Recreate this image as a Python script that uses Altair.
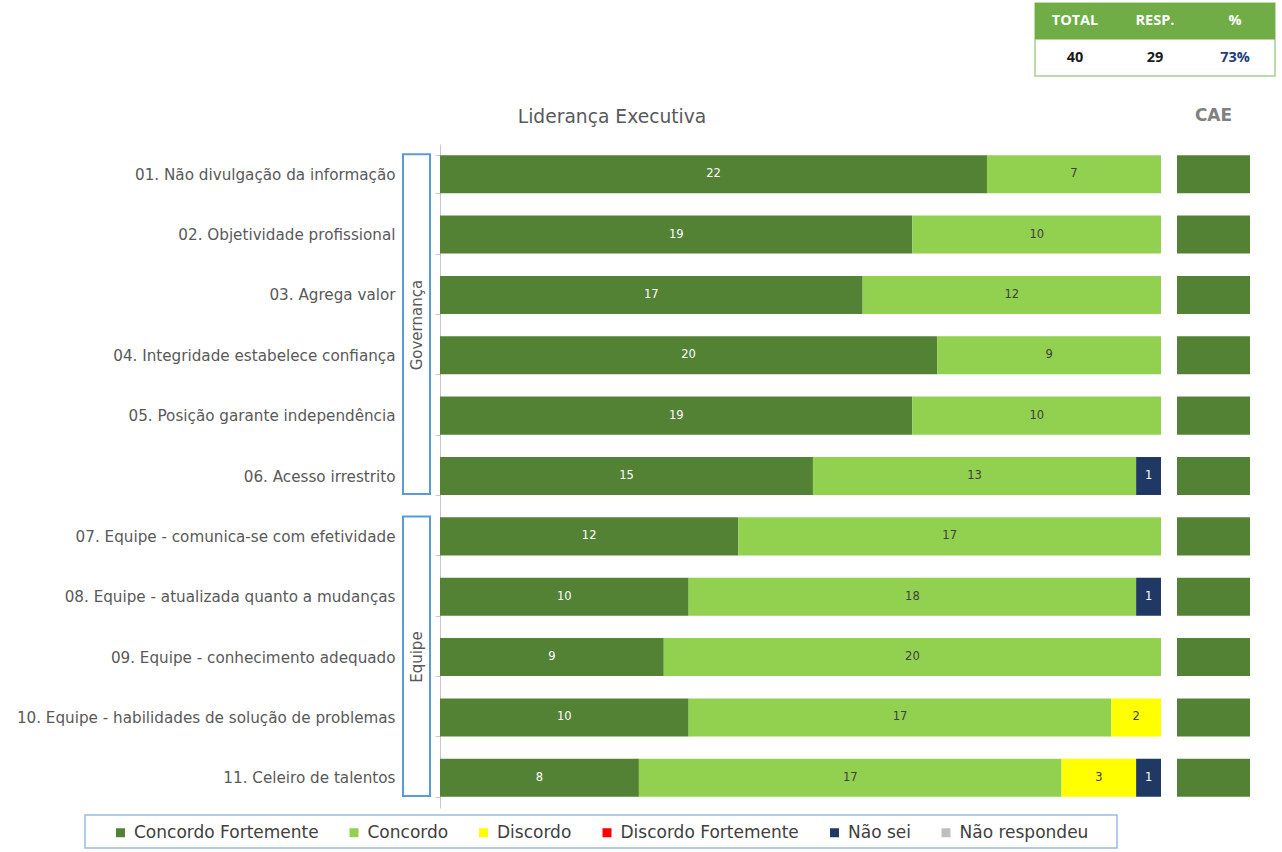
import altair as alt
import pandas as pd

questions = [
    "01. Não divulgação da informação",
    "02. Objetividade profissional",
    "03. Agrega valor",
    "04. Integridade estabelece confiança",
    "05. Posição garante independência",
    "06. Acesso irrestrito",
    "07. Equipe - comunica-se com efetividade",
    "08. Equipe - atualizada quanto a mudanças",
    "09. Equipe - conhecimento adequado",
    "10. Equipe - habilidades de solução de problemas",
    "11. Celeiro de talentos",
]
groups = ["Governança"] * 6 + ["Equipe"] * 5
categories = ["Concordo Fortemente", "Concordo", "Discordo",
              "Discordo Fortemente", "Não sei", "Não respondeu"]
colors = ["#548235", "#92D050", "#FFFF00", "#FF0000", "#203864", "#BFBFBF"]

concordo_fortemente = [22, 19, 17, 20, 19, 15, 12, 10, 9, 10, 8]
concordo = [7, 10, 12, 9, 10, 13, 17, 18, 20, 17, 17]
discordo = [0, 0, 0, 0, 0, 0, 0, 0, 0, 2, 3]
discordo_fortemente = [0, 0, 0, 0, 0, 0, 0, 0, 0, 0, 0]
nao_sei = [0, 0, 0, 0, 0, 1, 0, 1, 0, 0, 1]
nao_respondeu = [0, 0, 0, 0, 0, 0, 0, 0, 0, 0, 0]
cae = [1, 1, 1, 1, 1, 1, 1, 1, 1, 1, 1]

table_cols = ["TOTAL", "RESP.", "%"]
table_vals = ["40", "29", "73%"]
chart_title = "Liderança Executiva"
cae_title_text = "CAE"

FONT = "DejaVu Sans"
W, H = 721, 664

series = [concordo_fortemente, concordo, discordo, discordo_fortemente, nao_sei, nao_respondeu]
rows = []
for i, q in enumerate(questions):
    for k, (cat, vals) in enumerate(zip(categories, series)):
        rows.append(dict(q=q, idx=i, group=groups[i], cat=cat, order=k, value=vals[i]))
df = pd.DataFrame(rows)
df_q = pd.DataFrame(dict(q=questions, idx=list(range(len(questions))), group=groups, cae=cae))

yband = alt.Scale(domain=questions, paddingInner=0.37, paddingOuter=0.185)
xmain = alt.Scale(domain=[0, 29], nice=False, zero=True)

base = alt.Chart(df).transform_filter("datum.value > 0").transform_stack(
    stack="value", groupby=["q"], as_=["x0", "x1"], sort=[alt.SortField("order")]
)

bars = base.mark_bar().encode(
    y=alt.Y("q:N", sort=questions, scale=yband, axis=alt.Axis(
        title=None, tickBand="extent", labelFont=FONT, labelFontSize=15.2,
        labelColor="#595959", labelPadding=40, tickSize=5, tickColor="#C8C8C8",
        domainColor="#C8C8C8", labelLimit=600, grid=False)),
    x=alt.X("x0:Q", scale=xmain, axis=None),
    x2="x1:Q",
    color=alt.Color("cat:N", scale=alt.Scale(domain=categories, range=colors), legend=alt.Legend(
        title=None, orient="none", legendX=-328, legendY=680, direction="horizontal",
        symbolType="square", symbolSize=81, symbolStrokeWidth=0, labelFont=FONT,
        labelFontSize=17, labelColor="#404040", columnPadding=26.5, labelOffset=5,
        padding=0, labelLimit=400)),
)

labels = base.transform_calculate(mid="(datum.x0 + datum.x1) / 2").mark_text(
    font=FONT, fontSize=11.5
).encode(
    y=alt.Y("q:N", sort=questions, scale=yband),
    x=alt.X("mid:Q", scale=xmain, axis=None),
    text=alt.Text("value:Q"),
    color=alt.condition("datum.cat == 'Concordo Fortemente' || datum.cat == 'Não sei'",
                        alt.value("white"), alt.value("#404040")),
)

title_mark = alt.Chart(pd.DataFrame({"t": [chart_title]})).mark_text(
    font=FONT, fontSize=18.7, color="#595959"
).encode(x=alt.value(172), y=alt.value(-27), text="t:N")

main = alt.layer(bars, labels, title_mark)

cae_x = alt.Scale(domain=[0, 1], range=[737, 810], nice=False, zero=True)
cae_bars = alt.Chart(df_q).mark_bar(color="#548235").encode(
    y=alt.Y("q:N", sort=questions, scale=yband, axis=None),
    x=alt.X("cae:Q", scale=cae_x, axis=None),
)
cae_title = alt.Chart(pd.DataFrame({"t": [cae_title_text]})).mark_text(
    font=FONT, fontSize=17, fontWeight="bold", color="#808080"
).encode(x=alt.datum(0.5, scale=cae_x), y=alt.value(-28), text="t:N")
cae_layer = alt.layer(cae_bars, cae_title)

idx_scale = alt.Scale(domain=[-0.5, 10.5], reverse=True, nice=False, zero=False)
grp = alt.Chart(df_q).transform_aggregate(
    lo="min(idx)", hi="max(idx)", groupby=["group"]
).transform_calculate(y0="datum.lo - 0.33", y1="datum.hi + 0.3", mid="(datum.lo + datum.hi) / 2")
brackets = grp.mark_rect(fill="white", stroke="#5B9BD5", strokeWidth=2).encode(
    y=alt.Y("y0:Q", scale=idx_scale, axis=None), y2="y1:Q",
    x=alt.value(-37), x2=alt.value(-10),
)
grp_text = grp.mark_text(font=FONT, fontSize=15, color="#595959", angle=270).encode(
    y=alt.Y("mid:Q", scale=idx_scale, axis=None), x=alt.value(-23), text="group:N",
)
bracket_layer = alt.layer(brackets, grp_text)

tx = alt.Scale(domain=[0, 3], range=[595, 835], nice=False, zero=False)
ty = alt.Scale(domain=[0, 2], range=[-141, -68], nice=False, zero=False)
tdf = pd.DataFrame(dict(col=table_cols, val=table_vals, c=[0, 1, 2]))
tbase = alt.Chart(tdf).transform_calculate(c1="datum.c + 1", cm="datum.c + 0.5")
t_head = tbase.mark_rect(color="#70AD47").encode(
    x=alt.X("c:Q", scale=tx, axis=None), x2="c1:Q",
    y=alt.datum(0, scale=ty, axis=None), y2=alt.datum(1),
)
t_border = alt.Chart(pd.DataFrame({"a": [0]})).mark_rect(
    fill="white", stroke="#A9D08E", strokeWidth=1.5
).encode(
    x=alt.datum(0, scale=tx, axis=None), x2=alt.datum(3),
    y=alt.datum(0, scale=ty, axis=None), y2=alt.datum(2),
)
t_head_text = tbase.mark_text(font="Open Sans", fontSize=14.5, fontWeight="bold", color="white").encode(
    x=alt.X("cm:Q", scale=tx, axis=None), y=alt.datum(0.5, scale=ty, axis=None), text="col:N",
)
t_val_text = tbase.mark_text(font="Open Sans", fontSize=14.5, fontWeight="bold").encode(
    x=alt.X("cm:Q", scale=tx, axis=None), y=alt.datum(1.5, scale=ty, axis=None), text="val:N",
    color=alt.condition("datum.col == '%'", alt.value("#1F3D7A"), alt.value("#1A1A1A")),
)
table_layer = alt.layer(t_border, t_head, t_head_text, t_val_text)

legend_box = alt.Chart(pd.DataFrame({"a": [0]})).mark_rect(
    fill="white", stroke="#9DB9DE", strokeWidth=1.5
).encode(x=alt.value(-355), x2=alt.value(677), y=alt.value(671), y2=alt.value(704))

chart = alt.layer(legend_box, bracket_layer, main, cae_layer, table_layer).resolve_scale(
    x="independent", y="independent"
).properties(
    width=W, height=H,
    autosize=alt.AutoSizeParams(type="none"),
    padding={"left": 440, "top": 144, "right": 121, "bottom": 44},
).configure_view(stroke=None)

chart.save("out.html", embed_options={"renderer": "svg", "actions": False})
